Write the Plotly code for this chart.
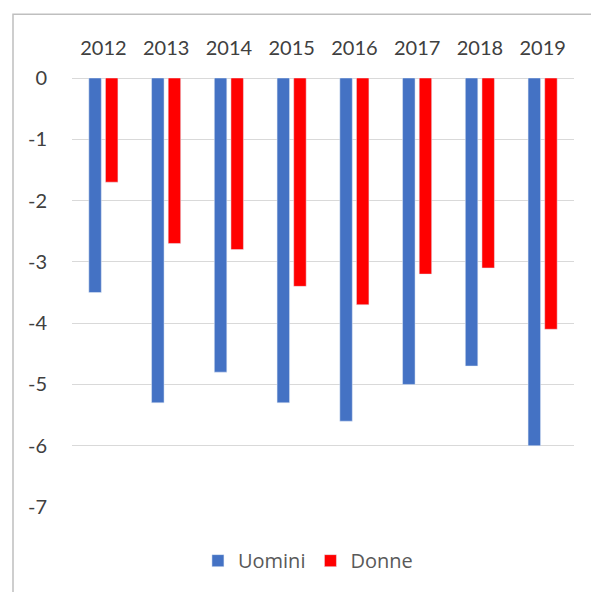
import plotly.graph_objects as go

# data
anni = ["2012", "2013", "2014", "2015", "2016", "2017", "2018", "2019"]
uomini = [-3.5, -5.3, -4.8, -5.3, -5.6, -5.0, -4.7, -6.0]
donne = [-1.7, -2.7, -2.8, -3.4, -3.7, -3.2, -3.1, -4.1]
y_ticks = [0, -1, -2, -3, -4, -5, -6, -7]
y_labels = ["0", "-1", "-2", "-3", "-4", "-5", "-6", "-7"]

FONT = "Lato, 'Open Sans', sans-serif"

fig = go.Figure()
fig.add_trace(go.Bar(x=anni, y=uomini, name="Uomini", marker_color="#4472C4"))
fig.add_trace(go.Bar(x=anni, y=donne, name="Donne", marker_color="#FF0000"))

# page body has an 8px margin, so the figure is a little smaller than the window
fig.update_layout(
    width=591, height=584,
    margin=dict(l=64, r=25, t=70, b=83),
    paper_bgcolor="white", plot_bgcolor="white",
    barmode="group", bargap=0.47, bargroupgap=0.25,
    font=dict(family=FONT, size=20, color="#404040"),
    legend=dict(orientation="h", x=0.47, xanchor="center", y=-0.125, yanchor="middle",
                font=dict(family="'Open Sans', sans-serif", size=20, color="#595959"),
                itemwidth=30, traceorder="normal"),
    showlegend=True,
)

fig.update_xaxes(side="top", showgrid=False, showline=False, zeroline=False,
                 ticks="outside", ticklen=14, tickcolor="rgba(0,0,0,0)")
fig.update_yaxes(range=[-7, 0], tickvals=y_ticks, ticktext=y_labels,
                 showgrid=True, gridcolor="#d9d9d9", gridwidth=1,
                 zeroline=True, zerolinecolor="#d9d9d9", zerolinewidth=1,
                 showline=False, ticks="outside", ticklen=20, tickcolor="rgba(0,0,0,0)")

# chart border like the Excel chart area
fig.add_shape(type="rect", xref="paper", yref="paper",
              x0=-59 / 502, x1=1.2, y0=-0.3, y1=1 + 64 / 431,
              line=dict(color="#bfbfbf", width=1.5), layer="below")

fig.write_html("out.html")
